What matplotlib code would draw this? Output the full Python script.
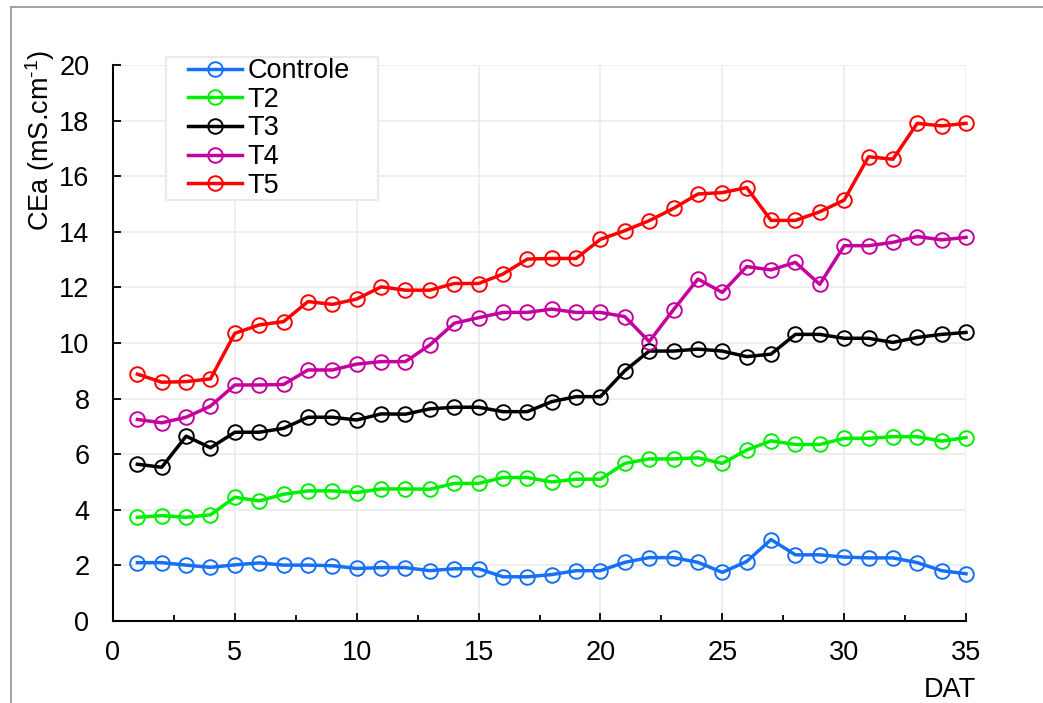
import matplotlib
matplotlib.use("Agg")
import matplotlib.pyplot as plt
from matplotlib.lines import Line2D
from matplotlib.patches import Rectangle
from matplotlib.ticker import MultipleLocator

plt.rcParams.update({
    'font.family': ['Liberation Sans', 'DejaVu Sans'],
    'mathtext.fontset': 'custom',
    'mathtext.rm': 'Liberation Sans',
})

# ---- Data: CEa per day after transplanting ----
dat = list(range(1, 36))
controle = [2.10, 2.10, 2.01, 1.93, 2.02, 2.09, 2.01, 2.01, 1.99, 1.89, 1.92, 1.92,
            1.81, 1.88, 1.88, 1.59, 1.59, 1.67, 1.81, 1.81, 2.11, 2.28, 2.28, 2.11,
            1.75, 2.14, 2.93, 2.38, 2.38, 2.30, 2.27, 2.27, 2.10, 1.81, 1.70]
t2 = [3.73, 3.79, 3.73, 3.82, 4.45, 4.32, 4.56, 4.68, 4.68, 4.62, 4.75, 4.75,
      4.74, 4.95, 4.95, 5.16, 5.16, 5.00, 5.10, 5.10, 5.67, 5.83, 5.83, 5.87,
      5.67, 6.15, 6.48, 6.35, 6.35, 6.57, 6.57, 6.63, 6.63, 6.47, 6.60]
t3 = [5.64, 5.53, 6.65, 6.23, 6.79, 6.79, 6.93, 7.33, 7.33, 7.23, 7.45, 7.44,
      7.63, 7.69, 7.69, 7.53, 7.53, 7.89, 8.07, 8.07, 9.00, 9.71, 9.71, 9.78,
      9.71, 9.51, 9.60, 10.31, 10.31, 10.17, 10.17, 10.02, 10.20, 10.31, 10.38]
t4 = [7.25, 7.13, 7.33, 7.73, 8.49, 8.49, 8.51, 9.03, 9.03, 9.24, 9.33, 9.33,
      9.93, 10.71, 10.91, 11.10, 11.10, 11.22, 11.10, 11.10, 10.95, 10.05, 11.20, 12.30,
      11.82, 12.75, 12.63, 12.90, 12.11, 13.50, 13.50, 13.62, 13.83, 13.71, 13.80]
t5 = [8.88, 8.59, 8.61, 8.71, 10.35, 10.65, 10.77, 11.49, 11.39, 11.58, 12.02, 11.90,
      11.90, 12.14, 12.14, 12.48, 13.02, 13.04, 13.04, 13.73, 14.04, 14.40, 14.84, 15.36,
      15.41, 15.59, 14.41, 14.41, 14.72, 15.14, 16.70, 16.61, 17.90, 17.81, 17.90]

series = [
    ('Controle', controle, '#1670F5'),
    ('T2', t2, '#00EE00'),
    ('T3', t3, '#000000'),
    ('T4', t4, '#C4009F'),
    ('T5', t5, '#FF0000'),
]

FS = 19.5

W, H = 1043, 703
fig = plt.figure(figsize=(W / 100, H / 100), dpi=100)
ax = fig.add_axes([113 / W, 1 - 621 / H, (966 - 113) / W, (621 - 65) / H])

for name, vals, col in series:
    ax.plot(dat, vals, color=col, lw=2.5, marker='o', ms=10.5,
            mfc='none', mec=col, mew=1.4, label=name, zorder=3, clip_on=False)

ax.set_xlim(0, 35)
ax.set_ylim(0, 20)
ax.xaxis.set_major_locator(MultipleLocator(5))
ax.xaxis.set_minor_locator(MultipleLocator(2.5))
ax.yaxis.set_major_locator(MultipleLocator(2))

ax.grid(True, which='major', color='#EBEBEB', lw=1.2, zorder=0)
ax.set_axisbelow(True)
for side in ('top', 'right'):
    ax.spines[side].set_visible(False)
for side in ('left', 'bottom'):
    ax.spines[side].set_linewidth(1.5)

ax.tick_params(axis='both', which='major', direction='in', length=6, width=1.3,
               labelsize=FS)
ax.tick_params(axis='x', which='minor', direction='in', length=4.5, width=1.3)
ax.tick_params(axis='x', which='major', pad=14)
ax.tick_params(axis='y', which='major', pad=17)

# legend box drawn separately so it can be wider than the entries
ax.add_patch(Rectangle((166 / W, 1 - 200 / H), (378 - 166) / W, (200 - 57) / H,
                       transform=fig.transFigure, facecolor='white',
                       edgecolor='#E6E6E6', lw=1.2, zorder=4, clip_on=False))
leg = ax.legend(loc='upper left', bbox_to_anchor=(188 / W, 1 - 58 / H),
                bbox_transform=fig.transFigure, fontsize=FS, frameon=False,
                borderpad=0.0, labelspacing=0.1, handlelength=2.0,
                handletextpad=0.2, borderaxespad=0)
leg.set_zorder(5)

fig.text(40 / W, 1 - 50 / H, r'CEa (mS.cm$^{\text{-1}}$)', rotation=90,
         ha='center', va='top', fontsize=FS)
fig.text(950 / W, 1 - 690 / H, 'DAT', ha='center', va='center', fontsize=FS)

# outer frame lines (top and left edge)
fig.add_artist(Line2D([11 / W, 1.0], [1 - 7 / H, 1 - 7 / H],
                      transform=fig.transFigure, color='#9A9A9A', lw=1.3))
fig.add_artist(Line2D([11 / W, 11 / W], [1 - 7 / H, 0.0],
                      transform=fig.transFigure, color='#9A9A9A', lw=1.3))

fig.savefig('out.png', dpi=100, facecolor='white')
